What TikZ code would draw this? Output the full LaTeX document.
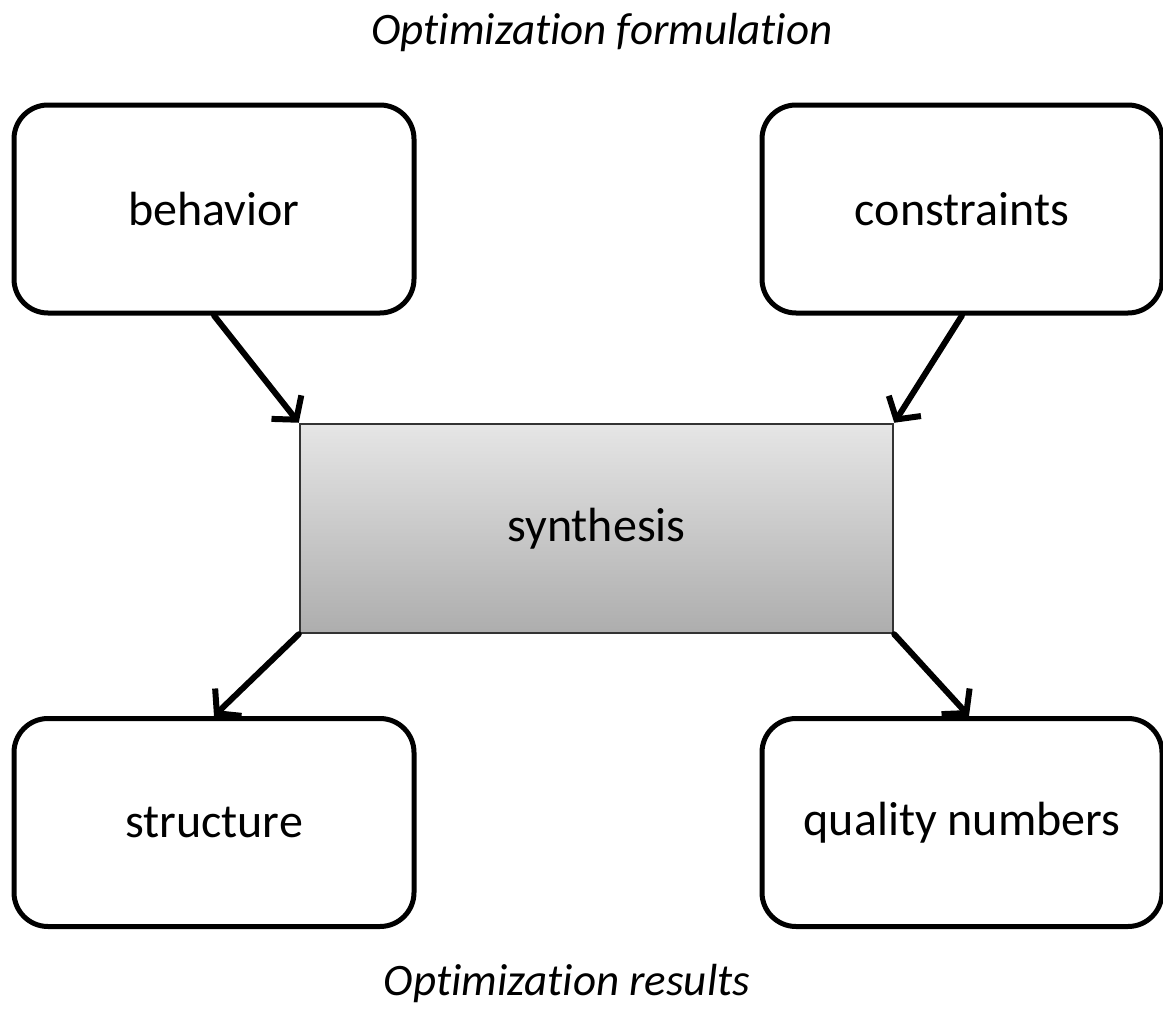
\documentclass[tikz,border=0pt]{standalone}
\usepackage{fontspec}
\setmainfont{Carlito}[RawFeature={-liga;-clig;-calt;-dlig}]
\usetikzlibrary{arrows.meta}
\begin{document}
\begin{tikzpicture}[x=1pt,y=-1pt,
  rbox/.style={draw=black, line width=5pt, rounded corners=34pt, minimum width=400pt, minimum height=208pt, inner sep=0pt, font=\fontsize{48}{56}\selectfont, fill=white},
  synbox/.style={draw=black!80, line width=2.5pt, top color=black!10, bottom color=black!32, minimum width=593pt, minimum height=209pt, inner sep=0pt, font=\fontsize{48}{56}\selectfont},
  conn/.style={line width=6pt, line cap=round, -{Straight Barb[length=16pt,width=38pt,line width=6pt]}},
  title/.style={font=\fontsize{45}{52}\selectfont\itshape}]
\useasboundingbox (0,0) rectangle (1163,1017);
\node[title] (t1) at (602,33) {Opt\kern0pt imizat\kern0pt ion formulat\kern0pt ion};
\node[title] (t2) at (567,983) {Opt\kern0pt imizat\kern0pt ion results};
\node[rbox] (beh) at (214,209) {behavior};
\node[rbox] (con) at (962,209) {constraints};
\node[synbox] (syn) at (596.5,528.5) {synthesis};
\node[rbox] (str) at (214,822.5) {structure};
\node[rbox] (qua) at (962,822.5) {quality numbers};
\draw[conn] (beh.south) -- (syn.north west);
\draw[conn] (con.south) -- (syn.north east);
\draw[conn] (syn.south west) -- (str.north);
\draw[conn] (syn.south east) -- ([xshift=7pt]qua.north);
\end{tikzpicture}
\end{document}
